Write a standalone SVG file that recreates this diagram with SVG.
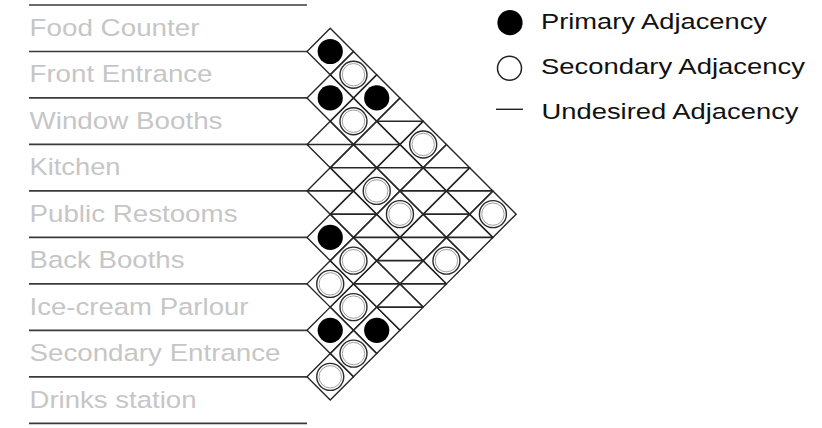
<svg xmlns="http://www.w3.org/2000/svg" width="822" height="428" viewBox="0 0 822 428">
<style>
.lbl{font-family:"Liberation Sans",Arial,sans-serif;font-size:24.5px;fill:#c6c6c6}
.leg{font-family:"Liberation Sans",Arial,sans-serif;font-size:22.5px;fill:#111}
.sep{stroke:#3a3a3a;stroke-width:1.7;fill:none}
.cell{stroke:#262626;stroke-width:1.4;fill:none}
.und{stroke:#262626;stroke-width:1.6}
.pri{fill:#000}
.sec{fill:#fff;stroke:#2a2a2a;stroke-width:1.4}
.sec2{fill:none;stroke:#888;stroke-width:0.8}
</style>
<defs>
<path id="dia" class="cell" d="M-23.24,0 L0,-23.24 L23.24,0 L0,23.24 Z"/>
<line id="hl" class="und" x1="-23.24" y1="0" x2="23.24" y2="0"/>
<circle id="bc" class="pri" r="12.6"/>
<g id="wc"><circle class="sec" r="13.5"/><circle class="sec2" r="11.2"/></g>
</defs>
<rect width="822" height="428" fill="#fff"/>

<g id="separators">
<line class="sep" x1="29" y1="5" x2="307" y2="5"/>
<line class="sep" x1="29" y1="51.48" x2="307" y2="51.48"/>
<line class="sep" x1="29" y1="97.96" x2="307" y2="97.96"/>
<line class="sep" x1="29" y1="144.44" x2="307" y2="144.44"/>
<line class="sep" x1="29" y1="190.92" x2="307" y2="190.92"/>
<line class="sep" x1="29" y1="237.4" x2="307" y2="237.4"/>
<line class="sep" x1="29" y1="283.88" x2="307" y2="283.88"/>
<line class="sep" x1="29" y1="330.36" x2="307" y2="330.36"/>
<line class="sep" x1="29" y1="376.84" x2="307" y2="376.84"/>
<line class="sep" x1="29" y1="423.32" x2="307" y2="423.32"/>
</g>

<g id="item-food-counter"><text class="lbl" x="29.5" y="35.8" textLength="170" lengthAdjust="spacingAndGlyphs">Food Counter</text></g>
<g id="item-front-entrance"><text class="lbl" x="29.5" y="82.3" textLength="183" lengthAdjust="spacingAndGlyphs">Front Entrance</text></g>
<g id="item-window-booths"><text class="lbl" x="29.5" y="128.8" textLength="193" lengthAdjust="spacingAndGlyphs">Window Booths</text></g>
<g id="item-kitchen"><text class="lbl" x="29.5" y="175.2" textLength="91" lengthAdjust="spacingAndGlyphs">Kitchen</text></g>
<g id="item-public-restooms"><text class="lbl" x="29.5" y="221.7" textLength="208" lengthAdjust="spacingAndGlyphs">Public Restooms</text></g>
<g id="item-back-booths"><text class="lbl" x="29.5" y="268.2" textLength="155" lengthAdjust="spacingAndGlyphs">Back Booths</text></g>
<g id="item-ice-cream-parlour"><text class="lbl" x="29.5" y="314.7" textLength="219" lengthAdjust="spacingAndGlyphs">Ice-cream Parlour</text></g>
<g id="item-secondary-entrance"><text class="lbl" x="29.5" y="361.2" textLength="251" lengthAdjust="spacingAndGlyphs">Secondary Entrance</text></g>
<g id="item-drinks-station"><text class="lbl" x="29.5" y="407.6" textLength="167" lengthAdjust="spacingAndGlyphs">Drinks station</text></g>

<g id="matrix-grid">
<use href="#dia" x="330.24" y="51.48"/>
<use href="#dia" x="330.24" y="97.96"/>
<use href="#dia" x="330.24" y="144.44"/>
<use href="#dia" x="330.24" y="190.92"/>
<use href="#dia" x="330.24" y="237.4"/>
<use href="#dia" x="330.24" y="283.88"/>
<use href="#dia" x="330.24" y="330.36"/>
<use href="#dia" x="330.24" y="376.84"/>
<use href="#dia" x="353.48" y="74.72"/>
<use href="#dia" x="353.48" y="121.2"/>
<use href="#dia" x="353.48" y="167.68"/>
<use href="#dia" x="353.48" y="214.16"/>
<use href="#dia" x="353.48" y="260.64"/>
<use href="#dia" x="353.48" y="307.12"/>
<use href="#dia" x="353.48" y="353.6"/>
<use href="#dia" x="376.72" y="97.96"/>
<use href="#dia" x="376.72" y="144.44"/>
<use href="#dia" x="376.72" y="190.92"/>
<use href="#dia" x="376.72" y="237.4"/>
<use href="#dia" x="376.72" y="283.88"/>
<use href="#dia" x="376.72" y="330.36"/>
<use href="#dia" x="399.96" y="121.2"/>
<use href="#dia" x="399.96" y="167.68"/>
<use href="#dia" x="399.96" y="214.16"/>
<use href="#dia" x="399.96" y="260.64"/>
<use href="#dia" x="399.96" y="307.12"/>
<use href="#dia" x="423.2" y="144.44"/>
<use href="#dia" x="423.2" y="190.92"/>
<use href="#dia" x="423.2" y="237.4"/>
<use href="#dia" x="423.2" y="283.88"/>
<use href="#dia" x="446.44" y="167.68"/>
<use href="#dia" x="446.44" y="214.16"/>
<use href="#dia" x="446.44" y="260.64"/>
<use href="#dia" x="469.68" y="190.92"/>
<use href="#dia" x="469.68" y="237.4"/>
<use href="#dia" x="492.92" y="214.16"/>
</g>

<g id="matrix-marks">
<use href="#bc" x="330.24" y="51.48"/>
<use href="#bc" x="376.72" y="97.96"/>
<use href="#bc" x="330.24" y="97.96"/>
<use href="#bc" x="330.24" y="237.4"/>
<use href="#bc" x="376.72" y="330.36"/>
<use href="#bc" x="330.24" y="330.36"/>
<use href="#wc" x="353.48" y="74.72"/>
<use href="#wc" x="423.2" y="144.44"/>
<use href="#wc" x="492.92" y="214.16"/>
<use href="#wc" x="353.48" y="121.2"/>
<use href="#wc" x="376.72" y="190.92"/>
<use href="#wc" x="399.96" y="214.16"/>
<use href="#wc" x="446.44" y="260.64"/>
<use href="#wc" x="353.48" y="260.64"/>
<use href="#wc" x="330.24" y="283.88"/>
<use href="#wc" x="353.48" y="307.12"/>
<use href="#wc" x="353.48" y="353.6"/>
<use href="#wc" x="330.24" y="376.84"/>
<use href="#hl" x="399.96" y="121.2"/>
<use href="#hl" x="446.44" y="167.68"/>
<use href="#hl" x="469.68" y="190.92"/>
<use href="#hl" x="376.72" y="144.44"/>
<use href="#hl" x="399.96" y="167.68"/>
<use href="#hl" x="423.2" y="190.92"/>
<use href="#hl" x="446.44" y="214.16"/>
<use href="#hl" x="469.68" y="237.4"/>
<use href="#hl" x="330.24" y="144.44"/>
<use href="#hl" x="353.48" y="167.68"/>
<use href="#hl" x="423.2" y="237.4"/>
<use href="#hl" x="330.24" y="190.92"/>
<use href="#hl" x="353.48" y="214.16"/>
<use href="#hl" x="376.72" y="237.4"/>
<use href="#hl" x="399.96" y="260.64"/>
<use href="#hl" x="423.2" y="283.88"/>
<use href="#hl" x="376.72" y="283.88"/>
<use href="#hl" x="399.96" y="307.12"/>
</g>

<g id="legend">
<circle class="pri" cx="510" cy="22.7" r="12.6"/>
<circle cx="509.5" cy="68.3" r="12" fill="#fff" stroke="#222" stroke-width="1.5"/>
<line x1="496" y1="109.3" x2="523" y2="109.3" stroke="#222" stroke-width="1.4"/>
<text class="leg" x="541" y="29.3" textLength="226" lengthAdjust="spacingAndGlyphs">Primary Adjacency</text>
<text class="leg" x="541" y="74" textLength="264" lengthAdjust="spacingAndGlyphs">Secondary Adjacency</text>
<text class="leg" x="541.5" y="119.3" textLength="257" lengthAdjust="spacingAndGlyphs">Undesired Adjacency</text>
</g>
</svg>
